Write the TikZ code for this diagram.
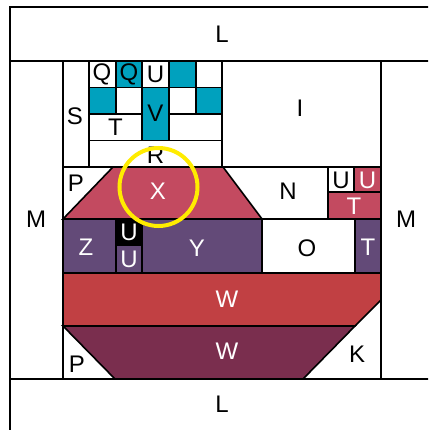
\documentclass[tikz,border=0pt]{standalone}
\usepackage{fontspec}
\setmainfont{Liberation Sans}
\usepackage{xcolor}
\usepackage{tikz}
\definecolor{tealblk}{RGB}{0,161,190}
\definecolor{rosex}{RGB}{195,74,96}
\definecolor{plum}{RGB}{99,74,120}
\definecolor{brick}{RGB}{193,64,67}
\definecolor{wine}{RGB}{122,46,78}
\definecolor{ringyellow}{RGB}{255,236,0}

\begin{document}
\begin{tikzpicture}[x=1pt, y=-1pt,
  cell/.style={draw=black, line width=1.6pt},
  lbl/.style={font=\fontsize{24}{28}\selectfont, inner sep=0pt},
  lblw/.style={lbl, text=white},
  ring/.style={draw=ringyellow, line width=4pt}]
\useasboundingbox (0,0) rectangle (428,430);
\clip (0,0) rectangle (428,430);
% frame
\filldraw[cell, fill=white] (10,7) rectangle (470,470);
\draw[cell] (10,61) -- (470,61);
\draw[cell] (10,379) -- (470,379);
\draw[cell] (63,61) -- (63,379);
\draw[cell] (381,61) -- (381,379);
% top block
\draw[cell] (63,61) rectangle (89,167);
\foreach \xa/\xb/\c in {89/116/white, 116/142/tealblk, 142/169/white, 169/196/tealblk, 196/222/white}
  \filldraw[cell, fill=\c] (\xa,61) rectangle (\xb,87.5);
\foreach \xa/\xb/\c in {89/116/tealblk, 116/142/white, 169/196/white, 196/222/tealblk}
  \filldraw[cell, fill=\c] (\xa,87.5) rectangle (\xb,114);
\filldraw[cell, fill=tealblk] (142,87.5) rectangle (169,140.5);
\draw[cell] (89,114) rectangle (142,140.5);
\draw[cell] (169,114) rectangle (222,140.5);
\draw[cell] (89,140.5) rectangle (222,167);
\draw[cell] (222,61) rectangle (381,167);
% upper middle
\filldraw[cell, fill=white] (63,167) rectangle (328,219);
\filldraw[cell, fill=rosex] (113,167) -- (223,167) -- (262,219) -- (63,219) -- cycle;
\filldraw[cell, fill=white] (328,167) rectangle (354,192);
\filldraw[cell, fill=rosex] (354,167) rectangle (381,192);
\filldraw[cell, fill=rosex] (328,192) rectangle (381,219);
% lower middle
\filldraw[cell, fill=plum] (63,219) rectangle (116,273);
\filldraw[cell, fill=black] (116,219) rectangle (142,245);
\filldraw[cell, fill=plum] (116,245) rectangle (142,273);
\filldraw[cell, fill=plum] (142,219) rectangle (262,273);
\filldraw[cell, fill=white] (262,219) rectangle (355,273);
\filldraw[cell, fill=plum] (355,219) rectangle (381,273);
% bottom block
\filldraw[cell, fill=white] (63,273) rectangle (381,379);
\filldraw[cell, fill=brick] (63,273) -- (381,273) -- (381,300) -- (355,326) -- (63,326) -- cycle;
\filldraw[cell, fill=wine] (63,326) -- (355,326) -- (303,379) -- (115,379) -- cycle;

\node[lbl]  (ltop) at (222,34)  {L};
\node[lbl]  (lbot) at (222,404) {L};
\node[lbl]  (mlft) at (36,219)  {M};
\node[lbl]  (mrgt) at (406,219) {M};
\node[lbl]  (qa)   at (102,74)  {Q};
\node[lbl]  (qb)   at (129,74)  {Q};
\node[lbl]  (ua)   at (155.5,74) {U};
\node[lbl]  (s)    at (75,116)  {S};
\node[lbl]  (ta)   at (115.5,127) {T};
\node[lbl]  (v)    at (155.5,113) {V};
\node[lbl]  (r)    at (155.5,155) {R};
\node[lbl]  (i)    at (300,108) {I};
\node[lbl]  (pa)   at (76,183)  {P};
\node[lblw] (x)    at (158,191) {X};
\node[lbl]  (n)    at (288,191) {N};
\node[lbl]  (ub)   at (341,180) {U};
\node[lblw] (uc)   at (367.5,180) {U};
\node[lblw] (tb)   at (354,206) {T};
\node[lblw] (z)    at (86,247)  {Z};
\node[lblw] (ud)   at (129,232) {U};
\node[lblw] (ue)   at (129,259) {U};
\node[lblw] (y)    at (197,248) {Y};
\node[lbl]  (o)    at (307,248) {O};
\node[lblw] (tc)   at (368,247) {T};
\node[lblw] (wa)   at (227,299) {W};
\node[lblw] (wb)   at (227,351) {W};
\node[lbl]  (pb)   at (77,364)  {P};
\node[lbl]  (k)    at (357,354) {K};
% marker
\draw[ring] (158.5,187) circle (39pt);
\end{tikzpicture}
\end{document}
